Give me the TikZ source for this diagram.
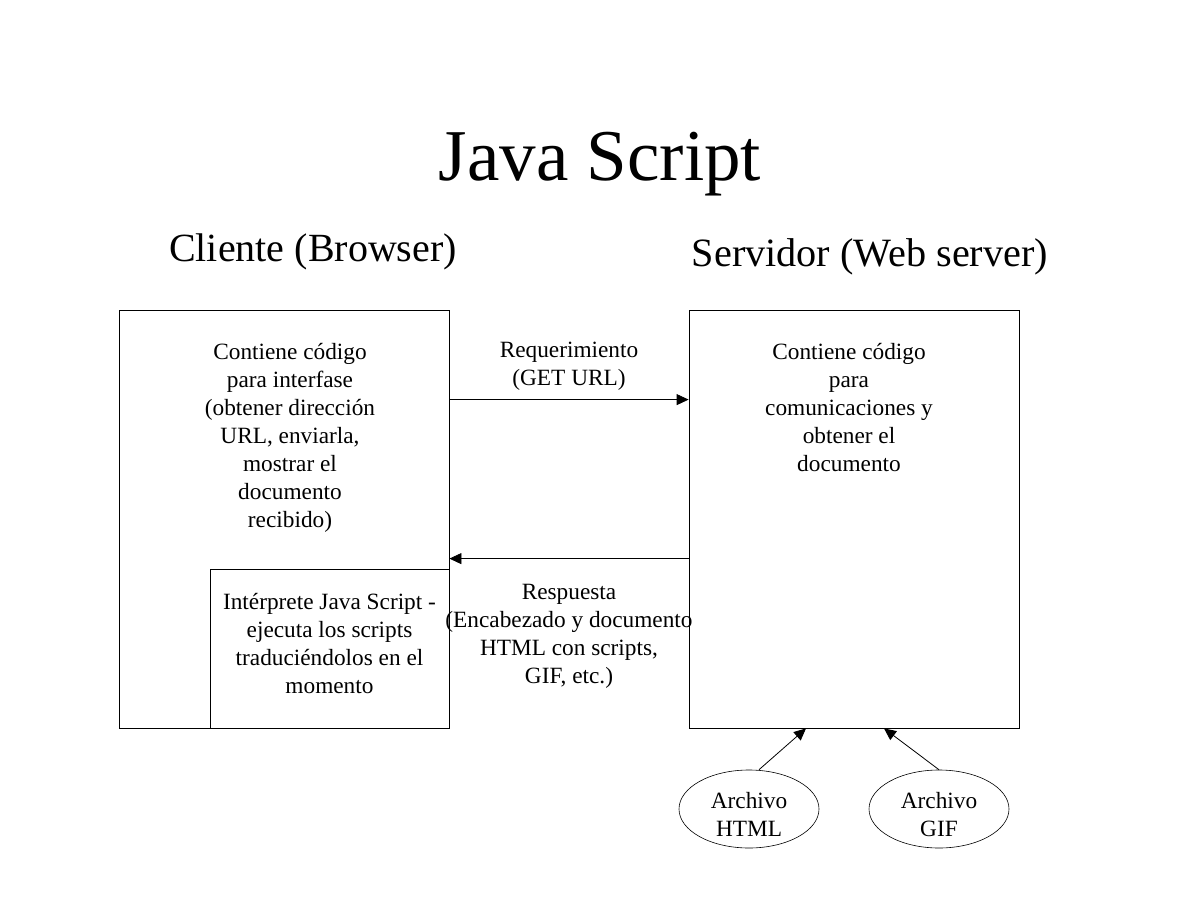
\documentclass[tikz,border=0pt]{standalone}
\usepackage{fontspec}
\setmainfont{Liberation Serif}
\usetikzlibrary{shapes.geometric, arrows.meta, positioning}
\tikzstyle{arrow} = [line width=0.8bp,->,>={Triangle[length=12bp,width=11bp]}]
\tikzstyle{box} = [rectangle, draw=black, line width=0.8bp, minimum width=330bp, minimum height=418bp, inner sep=0pt]
\tikzstyle{texto} = [align=center, inner sep=0pt, font=\fontsize{23.3bp}{28bp}\selectfont]
\tikzstyle{archivo} = [ellipse, draw=black, line width=0.6bp, minimum width=140bp, minimum height=78bp, inner sep=0pt, align=center, text height=55bp, text depth=0pt, font=\fontsize{23.3bp}{28bp}\selectfont]

\begin{document}
\begin{tikzpicture}[x=1bp, y=-1bp]
\useasboundingbox (0,0) rectangle (1198,898);

% Titles
\node (titulo) [anchor=base, font=\fontsize{73bp}{80bp}\selectfont] at (600,180) {Java Script};
\node (cliente_titulo) [anchor=base, font=\fontsize{40bp}{44bp}\selectfont] at (313,261) {Cliente (Browser)};
\node (servidor_titulo) [anchor=base, font=\fontsize{40.2bp}{44bp}\selectfont] at (870,266) {Servidor (Web server)};

% Boxes
\node (cliente) [box] at (284,519) {};
\node (servidor) [box] at (854,519) {};
\node (interprete) [rectangle, draw=black, line width=0.8bp, minimum width=239bp, minimum height=159bp, anchor=south east] at (cliente.south east) {};

% Box texts
\node (cliente_txt) [texto, below=33bp of cliente.north, xshift=6bp] {Contiene código\\para interfase\\(obtener dirección\\URL, enviarla,\\mostrar el\\documento\\recibido)};
\node (servidor_txt) [texto, below=33bp of servidor.north, xshift=-5bp] {Contiene código\\para\\comunicaciones y\\obtener el\\documento};
\node (interprete_txt) [texto, below=24bp of interprete.north] {Intérprete Java Script -\\ejecuta los scripts\\traduciéndolos en el\\momento};

% Files
\node (html) [archivo] at (749,809) {Archivo\\HTML};
\node (gif) [archivo] at (939,809) {Archivo\\GIF};

% Connections
\draw [arrow] ([yshift=-90bp]cliente.north east) -- node[texto, above=9bp] {Requerimiento\\(GET URL)} ([yshift=-90bp]servidor.north west);
\draw [arrow] ([yshift=-249bp]servidor.north west) -- node[texto, below=25bp] {Respuesta\\(Encabezado y documento\\HTML con scripts,\\GIF, etc.)} ([yshift=-249bp]cliente.north east);
\draw [arrow] ([xshift=10bp]html.north) -- ([xshift=-48bp]servidor.south);
\draw [arrow] (gif.north) -- ([xshift=30bp]servidor.south);

\end{tikzpicture}
\end{document}
